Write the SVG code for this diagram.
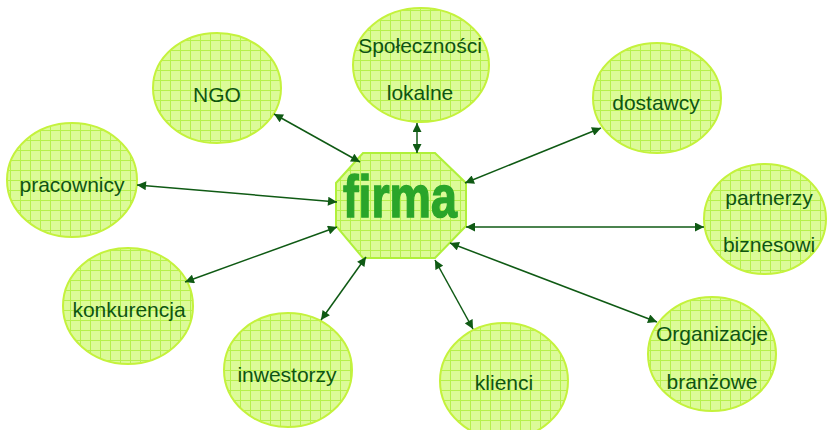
<svg xmlns="http://www.w3.org/2000/svg" width="828" height="430" viewBox="0 0 828 430">
<defs>
<pattern id="grid" patternUnits="userSpaceOnUse" width="10" height="10">
<rect width="10" height="10" fill="#dcfb98"/>
<path d="M0 0.5H10M0.5 0V10" stroke="#b6f04c" stroke-width="1"/>
</pattern>
<marker id="ah" viewBox="0 0 10 10" refX="10" refY="5" markerWidth="10" markerHeight="9" markerUnits="userSpaceOnUse" orient="auto-start-reverse">
<path d="M0 0L10 5L0 10z" fill="#0f5a14"/>
</marker>
<style>
.n{fill:url(#grid);stroke:#c4f23c;stroke-width:2}
.t{font-family:"Liberation Sans",Arial,sans-serif;font-size:21px;fill:#0e5512;text-anchor:middle}
.c line{stroke:#0f5a14;stroke-width:1.5;marker-start:url(#ah);marker-end:url(#ah)}
</style>
</defs>
<rect width="828" height="430" fill="#fff"/>
<g id="ngo"><ellipse class="n" cx="217" cy="88" rx="64" ry="55"/><text class="t" x="217" y="102">NGO</text></g>
<g id="spolecznosci"><ellipse class="n" cx="421" cy="65" rx="68" ry="57"/><text class="t" x="420" y="53">Społeczności</text><text class="t" x="420" y="100">lokalne</text></g>
<g id="dostawcy"><ellipse class="n" cx="657" cy="98" rx="64" ry="55"/><text class="t" x="656" y="110">dostawcy</text></g>
<g id="pracownicy"><ellipse class="n" cx="72" cy="180" rx="65" ry="57"/><text class="t" x="72" y="192">pracownicy</text></g>
<g id="partnerzy"><ellipse class="n" cx="765" cy="219" rx="61" ry="55"/><text class="t" x="769" y="205">partnerzy</text><text class="t" x="769" y="252">biznesowi</text></g>
<g id="konkurencja"><ellipse class="n" cx="128" cy="306" rx="65" ry="58"/><text class="t" x="129" y="317">konkurencja</text></g>
<g id="inwestorzy"><ellipse class="n" cx="288" cy="370" rx="64" ry="57"/><text class="t" x="287" y="382">inwestorzy</text></g>
<g id="klienci"><ellipse class="n" cx="504" cy="381" rx="64" ry="58"/><text class="t" x="504" y="390">klienci</text></g>
<g id="organizacje"><ellipse class="n" cx="712" cy="354" rx="64" ry="57"/><text class="t" x="712" y="341">Organizacje</text><text class="t" x="712" y="389">branżowe</text></g>
<g id="firma"><polygon points="363,153 435,153 466,183 466,226 435,258 363,258 336,226 336,183" fill="url(#grid)" stroke="#b0f03a" stroke-width="2"/>
<text x="400" y="217" font-family="Liberation Sans,Arial,sans-serif" font-weight="bold" font-size="60" fill="#2aa52a" stroke="#2aa52a" stroke-width="1.5" text-anchor="middle" textLength="114" lengthAdjust="spacingAndGlyphs">firma</text></g>
<g id="connectors" class="c">
<line x1="274" y1="114" x2="360" y2="162"/>
<line x1="417" y1="123" x2="417" y2="153"/>
<line x1="601" y1="128" x2="465" y2="183"/>
<line x1="704" y1="227" x2="466" y2="227"/>
<line x1="657" y1="322" x2="450" y2="243"/>
<line x1="473" y1="329" x2="435" y2="260"/>
<line x1="321" y1="320" x2="366" y2="257"/>
<line x1="185" y1="282" x2="337" y2="227"/>
<line x1="137" y1="185" x2="337" y2="202"/>
</g>
</svg>
